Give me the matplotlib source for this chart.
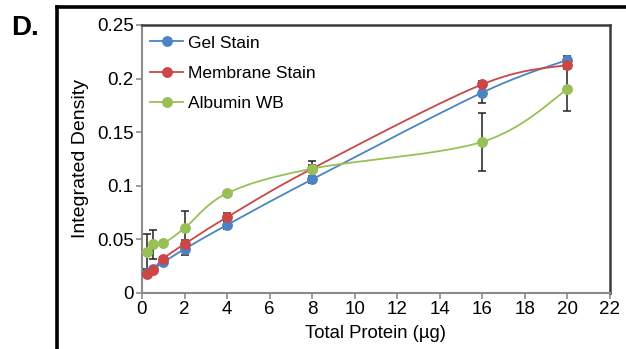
import matplotlib.pyplot as plt
import numpy as np
from matplotlib.lines import Line2D

plt.rcParams['font.family'] = ['Liberation Sans', 'DejaVu Sans']

# data
protein = [0.25, 0.5, 1, 2, 4, 8, 16, 20]
gel = [0.019, 0.022, 0.0285, 0.041, 0.0635, 0.106, 0.187, 0.2175]
gel_err = [0.002, 0.002, 0.002, 0.006, 0.004, 0.003, 0.010, 0.004]
membrane = [0.0175, 0.021, 0.032, 0.0457, 0.0707, 0.116, 0.1947, 0.2128]
membrane_err = [0.002, 0.002, 0.002, 0.004, 0.004, 0.003, 0.003, 0.004]
albumin = [0.0385, 0.0454, 0.0463, 0.0604, 0.093, 0.116, 0.141, 0.19]
albumin_err = [0.0165, 0.0135, 0.002, 0.016, 0.002, 0.0075, 0.027, 0.02]

series = [
    ('Gel Stain', gel, gel_err, '#4a84c4'),
    ('Membrane Stain', membrane, membrane_err, '#cc4646'),
    ('Albumin WB', albumin, albumin_err, '#98c056'),
]


def smooth(x, y, n=30):
    # Catmull-Rom style smoothing of the connecting line (like Excel smoothed lines)
    p = np.column_stack([x, y]).astype(float)
    p = np.vstack([p[0], p, p[-1]])
    out = []
    t = np.linspace(0, 1, n)
    for i in range(1, len(p) - 2):
        p0, p1, p2, p3 = p[i - 1], p[i], p[i + 1], p[i + 2]
        c1 = p1 + (p2 - p0) / 6
        c2 = p2 - (p3 - p1) / 6
        seg = ((1 - t) ** 3)[:, None] * p1 + (3 * (1 - t) ** 2 * t)[:, None] * c1 \
            + (3 * (1 - t) * t ** 2)[:, None] * c2 + (t ** 3)[:, None] * p2
        out.append(seg)
    s = np.vstack(out)
    return s[:, 0], s[:, 1]


fig = plt.figure(figsize=(6.26, 3.49), dpi=100)
ax = fig.add_axes([0.2268, 0.1605, 0.9744 - 0.2268, 0.9284 - 0.1605])

for name, vals, err, col in series:
    ax.errorbar(protein, vals, yerr=err, fmt='none', ecolor='#222222',
                elinewidth=1.1, capsize=2.8, capthick=1.1, zorder=2)
for name, vals, err, col in series:
    sx, sy = smooth(protein, vals)
    ax.plot(sx, sy, color=col, lw=1.3, zorder=3)
    ax.plot(protein, vals, 'o', color=col, ms=6.8, zorder=4)

handles = [Line2D([0], [0], color=c, lw=1.3, marker='o', ms=6.8) for _, _, _, c in series]
ax.legend(handles, [s[0] for s in series], loc='upper left', frameon=False,
          fontsize=12.5, handlelength=1.9, handletextpad=0.25, labelspacing=0.88,
          borderaxespad=0.0, borderpad=0.35, bbox_to_anchor=(0.005, 0.984))

ax.set_xlim(0, 22)
ax.set_ylim(0, 0.25)
ax.set_xticks(range(0, 23, 2))
ax.set_yticks([0, 0.05, 0.1, 0.15, 0.2, 0.25])
ax.set_yticklabels(['0', '0.05', '0.1', '0.15', '0.2', '0.25'])
ax.tick_params(axis='both', labelsize=13.5, color='#8c8c8c', length=4, width=1.2, pad=2)
ax.spines['left'].set_color('#8c8c8c')
ax.spines['bottom'].set_color('#8c8c8c')
ax.spines['left'].set_linewidth(1.5)
ax.spines['bottom'].set_linewidth(1.5)
ax.spines['top'].set_color('#3a3a3a')
ax.spines['right'].set_color('#3a3a3a')
ax.spines['top'].set_linewidth(1.8)
ax.spines['right'].set_linewidth(1.8)

ax.set_xlabel('Total Protein (µg)', fontsize=13.3, labelpad=5)
ax.set_ylabel('Integrated Density', fontsize=14, labelpad=6)

# outer panel frame and panel letter
fig.add_artist(Line2D([57 / 626, 1.0], [1 - 7 / 349, 1 - 7 / 349], color='black', lw=2.6,
                      transform=fig.transFigure))
fig.add_artist(Line2D([57 / 626, 57 / 626], [0, 1 - 7 / 349], color='black', lw=2.6,
                      transform=fig.transFigure))
fig.text(11 / 626, 1 - 28 / 349, 'D.', fontsize=20, fontweight='bold', va='center', ha='left')

fig.savefig('out.png', dpi=100)
